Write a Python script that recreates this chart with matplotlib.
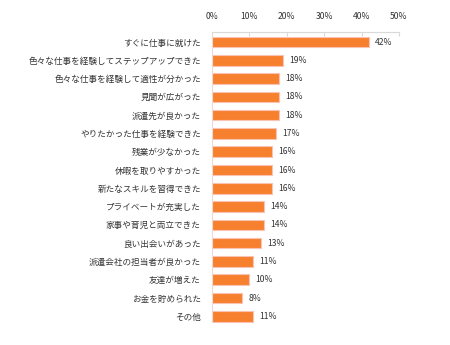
import matplotlib
matplotlib.use("Agg")
import matplotlib.pyplot as plt
import numpy as np

plt.rcParams['font.family'] = ['Noto Sans CJK JP', 'DejaVu Sans']

# Survey answers and their share (%)
labels = ['すぐに仕事に就けた', '色々な仕事を経験してステップアップできた',
          '色々な仕事を経験して適性が分かった', '見聞が広がった', '派遣先が良かった',
          'やりたかった仕事を経験できた', '残業が少なかった', '休暇を取りやすかった',
          '新たなスキルを習得できた', 'プライベートが充実した', '家事や育児と両立できた',
          '良い出会いがあった', '派遣会社の担当者が良かった', '友達が増えた',
          'お金を貯められた', 'その他']
values = [42, 19, 18, 18, 18, 17, 16, 16, 16, 14, 14, 13, 11, 10, 8, 11]
ticks = [0, 10, 20, 30, 40, 50]

text_col = '#333333'
fig = plt.figure(figsize=(4.5, 3.45), dpi=100)
ax = fig.add_axes([212/450, 1-326/345, 187/450, 294/345])

y = np.arange(len(labels))
ax.barh(y, values, height=0.58, color='#F7802F', edgecolor='#F9C3B4', linewidth=0.8)
for yi, v in zip(y, values):
    ax.annotate(f'{v}%', (v, yi), xytext=(4.5, 0), textcoords='offset points',
                va='center', ha='left', fontsize=6.2, color=text_col)

ax.set_xlim(0, 50)
ax.set_ylim(15.53, -0.55)
ax.set_yticks(y)
ax.set_yticklabels(labels, fontsize=6.2, color=text_col)
ax.set_xticks(ticks)
ax.set_xticklabels([f'{t}%' for t in ticks], fontsize=6.2, color=text_col)
ax.xaxis.tick_top()
ax.tick_params(axis='x', direction='in', length=3, color='#D9D9D9', pad=8)
ax.tick_params(axis='y', length=0, pad=8)
for s in ['right', 'bottom']:
    ax.spines[s].set_visible(False)
ax.spines['top'].set_color('#D9D9D9')
ax.spines['left'].set_color('#F2D6D0')
ax.spines['left'].set_bounds(15.3, -0.55)

fig.savefig('out.png', dpi=100)
